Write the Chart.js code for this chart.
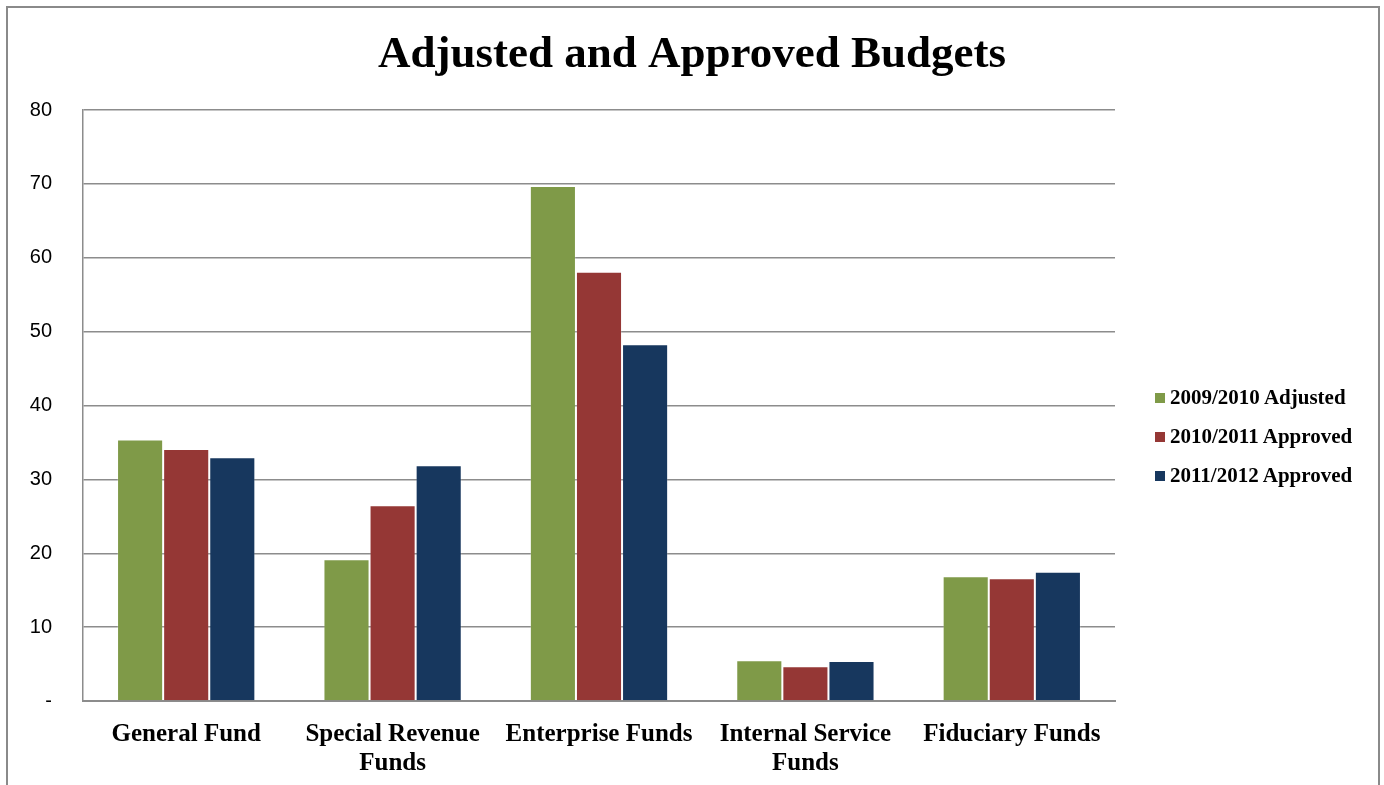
<!DOCTYPE html>
<html>
<head>
<meta charset="utf-8">
<title>Adjusted and Approved Budgets</title>
<script src="https://cdn.jsdelivr.net/npm/chart.js@4.4.0/dist/chart.umd.min.js"></script>
<style>
    html, body { margin: 0; padding: 0; background: #fff; overflow: hidden; }
    #wrap { position: relative; width: 1384px; height: 785px; }
    #frame {
        position: absolute; left: 6px; top: 6px; width: 1370px; height: 800px;
        border: 2px solid #8a8a8a; border-bottom: none; pointer-events: none;
    }
    #legend {
        position: absolute; left: 1155px; top: 385px;
        font-family: 'Liberation Serif', 'Times New Roman', serif;
        font-weight: bold; font-size: 21px; color: #000;
    }
    #legend .item { height: 24px; line-height: 24px; margin-bottom: 15px; white-space: nowrap; }
    #legend .swatch { display: inline-block; width: 10px; height: 10px; margin-right: 5px; vertical-align: 1px; }
</style>
</head>
<body>
<div id="wrap">
    <canvas id="budgetChart" width="1384" height="785"></canvas>
    <div id="legend"></div>
    <div id="frame"></div>
</div>
<script>
// Budget totals per fund type (millions)
const funds = [
    'General Fund',
    ['Special Revenue', 'Funds'],
    'Enterprise Funds',
    ['Internal Service', 'Funds'],
    'Fiduciary Funds'
];
const adjusted0910 = [35.4, 19.2, 69.7, 5.5, 16.9];
const approved1011 = [34.1, 26.5, 58.1, 4.7, 16.6];
const approved1112 = [33.0, 31.9, 48.3, 5.4, 17.5];
const yTickLabels = { 0: '-' };

const serif = "'Liberation Serif', 'Times New Roman', serif";

const ctx = document.getElementById('budgetChart').getContext('2d');

const chart = new Chart(ctx, {
    type: 'bar',
    data: {
        labels: funds,
        datasets: [
            {
                label: '2009/2010 Adjusted',
                data: adjusted0910,
                backgroundColor: '#7f9a48',
                borderColor: 'rgba(255,255,255,0.2)',
                borderWidth: 1
            },
            {
                label: '2010/2011 Approved',
                data: approved1011,
                backgroundColor: '#953735',
                borderColor: 'rgba(255,255,255,0.2)',
                borderWidth: 1
            },
            {
                label: '2011/2012 Approved',
                data: approved1112,
                backgroundColor: '#17375e',
                borderColor: 'rgba(255,255,255,0.2)',
                borderWidth: 1
            }
        ]
    },
    options: {
        responsive: false,
        animation: false,
        layout: { padding: 0 },
        datasets: {
            bar: {
                barPercentage: 1,
                categoryPercentage: 0.67
            }
        },
        plugins: {
            title: {
                display: true,
                text: 'Adjusted and Approved Budgets',
                color: '#000',
                font: { family: serif, size: 45, weight: 'bold', lineHeight: 1.2 },
                padding: { top: 28, bottom: 28 }
            },
            legend: { display: false },
            tooltip: { enabled: false }
        },
        scales: {
            x: {
                afterFit: function(scale) { scale.height = 84; },
                grid: { display: false },
                border: { display: true, color: '#8c8c8c', width: 2 },
                ticks: {
                    color: '#000',
                    font: { family: serif, size: 25, weight: 'bold', lineHeight: 1.16 },
                    padding: 11,
                    maxRotation: 0,
                    autoSkip: false
                }
            },
            y: {
                min: 0,
                max: 80,
                afterFit: function(scale) { scale.width = 83; },
                grid: { color: '#8c8c8c', lineWidth: 1.5, drawTicks: false },
                border: { display: true, color: '#8c8c8c', width: 1.5 },
                ticks: {
                    stepSize: 10,
                    padding: 31,
                    color: '#000',
                    font: { family: "'Liberation Sans', Arial, sans-serif", size: 20 },
                    callback: function(value) {
                        return yTickLabels[value] !== undefined ? yTickLabels[value] : value;
                    }
                }
            },
            // empty right-hand strip that leaves room for the legend
            legendSpace: {
                type: 'linear',
                position: 'right',
                afterFit: function(scale) { scale.width = 269; },
                grid: { display: false },
                border: { display: false },
                ticks: { display: false }
            }
        }
    }
});

// legend built from the datasets
const legendEl = document.getElementById('legend');
chart.data.datasets.forEach(ds => {
    const item = document.createElement('div');
    item.className = 'item';
    const swatch = document.createElement('span');
    swatch.className = 'swatch';
    swatch.style.background = ds.backgroundColor;
    item.appendChild(swatch);
    item.appendChild(document.createTextNode(ds.label));
    legendEl.appendChild(item);
});
</script>
</body>
</html>
